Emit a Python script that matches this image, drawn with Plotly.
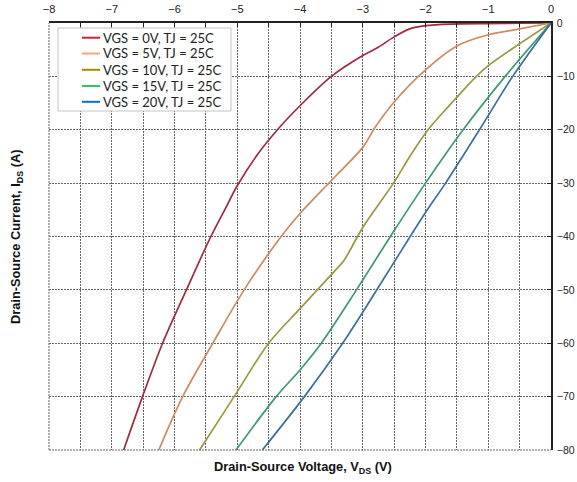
import plotly.graph_objects as go

# Reverse-conduction I-V curves (third quadrant), TJ = 25C
vgs_labels = ["VGS = 0V, TJ = 25C", "VGS = 5V, TJ = 25C", "VGS = 10V, TJ = 25C",
              "VGS = 15V, TJ = 25C", "VGS = 20V, TJ = 25C"]

vds_0v = [0, -0.5, -1.0, -1.6, -2.0, -2.25, -2.5, -2.76, -3.0, -3.5, -4.0, -4.36, -4.7,
          -5.0, -5.2, -5.42, -5.81, -6.19, -6.51, -6.81]
ids_0v = [0, -0.05, -0.1, -0.2, -0.5, -1.1, -2.6, -4.6, -6.1, -10.0, -15.5, -20.0, -25.0,
          -30.5, -35.0, -40.0, -50.0, -60.0, -70.0, -80.0]

vds_5v = [0, -0.5, -1.0, -1.5, -2.0, -2.5, -2.8, -3.0, -3.5, -4.0, -4.3, -4.89, -5.39,
          -5.87, -6.25]
ids_5v = [0, -1.1, -2.2, -4.3, -8.8, -14.8, -19.5, -23.3, -29.5, -35.7, -40.0, -50.0,
          -60.0, -70.0, -80.0]

vds_10v = [0, -0.5, -1.0, -1.19, -1.6, -1.96, -2.25, -2.51, -3.0, -3.3, -3.45, -4.0, -4.5,
           -5.05, -5.6]
ids_10v = [0, -3.9, -8.0, -10.0, -15.2, -20.0, -25.0, -30.0, -38.3, -44.5, -46.5, -53.5,
           -60.0, -70.0, -80.0]

vds_15v = [0, -0.73, -1.4, -2.0, -2.56, -3.1, -3.66, -4.0, -4.38, -5.02]
ids_15v = [0, -10.0, -20.0, -30.0, -40.0, -50.0, -60.0, -65.0, -70.0, -80.0]

vds_20v = [0, -0.61, -1.14, -1.68, -2.0, -2.5, -3.0, -3.32, -3.93, -4.6]
ids_20v = [0, -10.0, -20.0, -30.0, -35.5, -44.8, -54.2, -60.0, -70.0, -80.0]

x_ticks = [-8, -7, -6, -5, -4, -3, -2, -1, 0]
y_ticks = [0, -10, -20, -30, -40, -50, -60, -70, -80]

line_colors = ["#9E2B3E", "#CC8B62", "#9C9743", "#3C9A6E", "#3A6F9E"]
key_colors = ["#D0213A", "#F5A47B", "#A08D00", "#33C466", "#0A70BE"]

curves = [(vds_0v, ids_0v), (vds_5v, ids_5v), (vds_10v, ids_10v),
          (vds_15v, ids_15v), (vds_20v, ids_20v)]

W, H = 577, 482
ML, MR, MT, MB = 49, 26, 23, 32
PW, PH = W - ML - MR, H - MT - MB


def px(xp):
    return (xp - ML) / PW


def py(yp):
    return 1 - (yp - MT) / PH


fig = go.Figure()
for (vx, iy), name, col in zip(curves, vgs_labels, line_colors):
    fig.add_trace(go.Scatter(x=vx, y=iy, mode="lines", name=name, showlegend=False,
                             line=dict(color=col, width=1.7, shape="spline", smoothing=0.9)))

grid = dict(showgrid=True, gridcolor="#666666", gridwidth=1, griddash="2px,1px")
tickfont = dict(family="Arial, Liberation Sans, sans-serif", size=11, color="#222")
rtickfont = dict(family="Arial, Liberation Sans, sans-serif", size=10.5, color="#222")

fig.update_xaxes(range=[-8, 0], side="top", tickvals=x_ticks, ticks="inside", ticklen=4,
                 tickcolor="#222", showline=True, linecolor="#222", linewidth=1.5,
                 zeroline=False, tickfont=tickfont, ticklabelstandoff=4, automargin=False,
                 minor=dict(dtick=0.5, tick0=0, ticks="inside", ticklen=4, tickcolor="#222",
                            **grid),
                 **grid)
fig.update_yaxes(range=[-80, 0], side="right", tickvals=y_ticks, ticks="inside", ticklen=4,
                 tickcolor="#222", showline=True, linecolor="#222", linewidth=1.5,
                 zeroline=False, tickfont=rtickfont, ticklabelstandoff=2, automargin=False,
                 **grid)

shapes = []
# left and bottom frame edges drawn in the grid style
shapes.append(dict(type="line", xref="paper", yref="paper", x0=0, x1=0, y0=0, y1=1,
                   line=dict(color="#666666", width=1, dash="2px,1px")))
shapes.append(dict(type="line", xref="paper", yref="paper", x0=0, x1=1, y0=0, y1=0,
                   line=dict(color="#666666", width=1, dash="2px,1px")))

# key box
shapes.append(dict(type="rect", xref="paper", yref="paper", x0=px(58), x1=px(231),
                   y0=py(111), y1=py(28), fillcolor="white",
                   line=dict(color="#C4C4C4", width=1), layer="above"))
annotations = []
row_y = [37.7, 53.5, 69.8, 86.0, 101.8]
for lab, col, ry in zip(vgs_labels, key_colors, row_y):
    shapes.append(dict(type="line", xref="paper", yref="paper", x0=px(82), x1=px(100),
                       y0=py(ry), y1=py(ry), line=dict(color=col, width=2), layer="above"))
    annotations.append(dict(text=lab, xref="paper", yref="paper", x=px(101), y=py(ry),
                            xanchor="left", yanchor="middle", showarrow=False,
                            font=dict(family="Lato, sans-serif", size=13, color="#222")))

title_font = dict(family="Arial, Liberation Sans, sans-serif", size=12.8, color="#111")
annotations.append(dict(text="<b>Drain-Source Voltage, V<sub>DS</sub> (V)</b>",
                        xref="paper", yref="paper", x=px(303), y=py(467),
                        xanchor="center", yanchor="middle", showarrow=False, font=title_font))
annotations.append(dict(text="<b>Drain-Source Current, I<sub>DS</sub> (A)</b>",
                        xref="paper", yref="paper", x=px(16), y=py(237), textangle=-90,
                        xanchor="center", yanchor="middle", showarrow=False, font=title_font))

fig.update_layout(width=W, height=H, margin=dict(l=ML, r=MR, t=MT, b=MB),
                  plot_bgcolor="white", paper_bgcolor="white",
                  shapes=shapes, annotations=annotations, showlegend=False)

fig.write_html("out.html")
